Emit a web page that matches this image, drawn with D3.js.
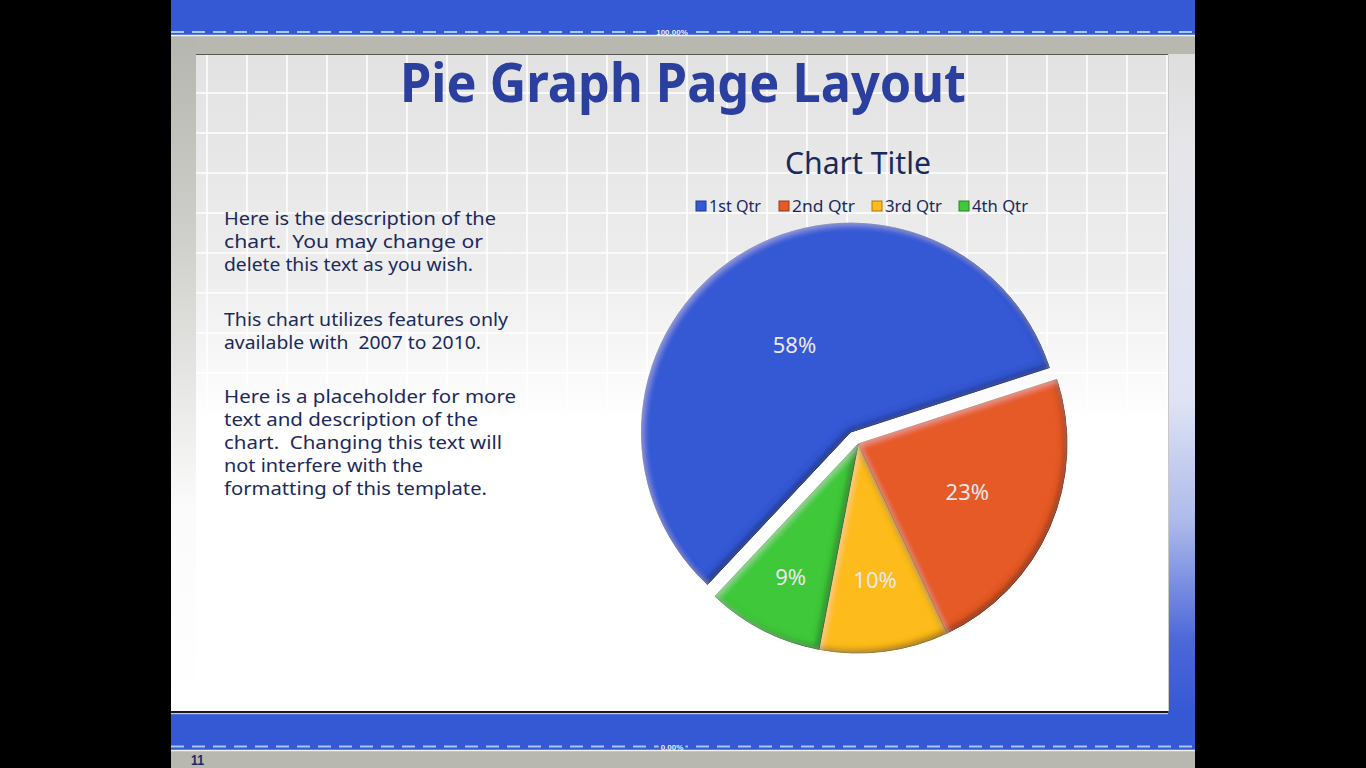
<!DOCTYPE html>
<html>
<head>
<meta charset="utf-8">
<script src="https://cdn.jsdelivr.net/npm/d3@7"></script>
<style>
  html, body { margin: 0; padding: 0; background: #000; }
  svg { display: block; }
</style>
</head>
<body>
<svg id="chart" width="1366" height="768"></svg>
<script>
// ---------- data ----------
const categories = ["1st Qtr", "2nd Qtr", "3rd Qtr", "4th Qtr"];
const values = [58, 23, 10, 9];
const sliceColors = ["#3558d4", "#e55a26", "#fdbb1a", "#41c83a"];
const pageTitle = "Pie Graph Page Layout";
const chartTitle = "Chart Title";
const paragraphs = [
  ["Here is the description of the", "chart.  You may change or", "delete this text as you wish."],
  ["This chart utilizes features only", "available with  2007 to 2010."],
  ["Here is a placeholder for more", "text and description of the", "chart.  Changing this text will", "not interfere with the", "formatting of this template."]
];
const topMarker = "100.00%";
const bottomMarker = "0.00%";
const pageNumber = "11";

// ---------- styling constants ----------
const blue = "#3558d4";
const navy = "#1b2a5c";
const titleBlue = "#2a3f9e";
const band = "#b8b8b1";
const slideX = 171, slideW = 1024;
const contentX = 196, contentR = 1168, contentTop = 54, contentBottom = 711;
const paraLineWidths = [
  [272, 259, 249],
  [284, 257],
  [292, 254, 278, 199, 263]
];
const paraBaselines = [[225, 248, 271], [326, 349], [403, 426, 449, 472, 495]];

const svg = d3.select("#chart");
const defs = svg.append("defs");

// gradients
const gMain = defs.append("linearGradient").attr("id", "gMain").attr("x1", 0).attr("y1", 0).attr("x2", 0).attr("y2", 1);
gMain.append("stop").attr("offset", "0").attr("stop-color", "#e2e2e2");
gMain.append("stop").attr("offset", "0.33").attr("stop-color", "#ededed");
gMain.append("stop").attr("offset", "0.56").attr("stop-color", "#ffffff");
gMain.append("stop").attr("offset", "1").attr("stop-color", "#ffffff");

const gLeft = defs.append("linearGradient").attr("id", "gLeft").attr("x1", 0).attr("y1", 0).attr("x2", 0).attr("y2", 1);
gLeft.append("stop").attr("offset", "0").attr("stop-color", "#b6b6b0");
gLeft.append("stop").attr("offset", "0.3").attr("stop-color", "#cfcfcb");
gLeft.append("stop").attr("offset", "0.7").attr("stop-color", "#fbfbfb");
gLeft.append("stop").attr("offset", "1").attr("stop-color", "#ffffff");

const gRight = defs.append("linearGradient").attr("id", "gRight").attr("gradientUnits", "userSpaceOnUse")
  .attr("x1", 0).attr("y1", 54).attr("x2", 0).attr("y2", 714);
[[54, "#dedede"], [150, "#e6e6ea"], [400, "#dfe3f5"], [520, "#aebbea"], [640, "#4c68d9"], [714, blue]]
  .forEach(([y, c]) => gRight.append("stop").attr("offset", (y - 54) / 660).attr("stop-color", c));

// bevel filter
const f = defs.append("filter").attr("id", "bevel").attr("x", "-10%").attr("y", "-10%").attr("width", "120%").attr("height", "120%");
f.append("feGaussianBlur").attr("in", "SourceAlpha").attr("stdDeviation", 3).attr("result", "blur");
f.append("feOffset").attr("in", "blur").attr("dx", -3).attr("dy", -3).attr("result", "offDark");
f.append("feComposite").attr("in", "SourceAlpha").attr("in2", "offDark").attr("operator", "arithmetic")
  .attr("k2", 1).attr("k3", -1).attr("result", "edgeDark");
f.append("feFlood").attr("flood-color", "#000").attr("flood-opacity", 0.7);
f.append("feComposite").attr("in2", "edgeDark").attr("operator", "in").attr("result", "shadeDark");
f.append("feOffset").attr("in", "blur").attr("dx", 2).attr("dy", 2).attr("result", "offLight");
f.append("feComposite").attr("in", "SourceAlpha").attr("in2", "offLight").attr("operator", "arithmetic")
  .attr("k2", 1).attr("k3", -1).attr("result", "edgeLight");
f.append("feFlood").attr("flood-color", "#fff").attr("flood-opacity", 0.3);
f.append("feComposite").attr("in2", "edgeLight").attr("operator", "in").attr("result", "shadeLight");
const fm = f.append("feMerge");
fm.append("feMergeNode").attr("in", "SourceGraphic");
fm.append("feMergeNode").attr("in", "shadeDark");
fm.append("feMergeNode").attr("in", "shadeLight");

// ---------- slide background ----------
svg.append("rect").attr("width", 1366).attr("height", 768).attr("fill", "#000");
svg.append("rect").attr("x", slideX).attr("y", 0).attr("width", slideW).attr("height", 768).attr("fill", band);
// top blue bar
svg.append("rect").attr("x", slideX).attr("y", 0).attr("width", slideW).attr("height", 35).attr("fill", blue);
svg.append("line").attr("x1", slideX).attr("x2", slideX + slideW).attr("y1", 35.5).attr("y2", 35.5).attr("stroke", "#f2f2f2").attr("stroke-width", 1.5);
// left strip
svg.append("rect").attr("x", slideX).attr("y", 37).attr("width", contentX - slideX).attr("height", contentBottom - 37).attr("fill", "url(#gLeft)");
// right strip
svg.append("rect").attr("x", contentR).attr("y", contentTop).attr("width", slideX + slideW - contentR).attr("height", 714 - contentTop).attr("fill", "url(#gRight)");
// main content
svg.append("rect").attr("x", contentX).attr("y", contentTop).attr("width", contentR - contentX).attr("height", contentBottom - contentTop).attr("fill", "url(#gMain)");
// grid lines
const grid = svg.append("g").attr("stroke", "#ffffff").attr("stroke-width", 1.5);
d3.range(207, contentR, 40).forEach(x => grid.append("line").attr("x1", x).attr("x2", x).attr("y1", contentTop).attr("y2", contentBottom));
d3.range(93, contentBottom, 40).forEach(y => grid.append("line").attr("x1", contentX).attr("x2", contentR).attr("y1", y).attr("y2", y));
// top ruler
svg.append("line").attr("x1", contentX).attr("x2", contentR).attr("y1", 54.5).attr("y2", 54.5).attr("stroke", "#555").attr("stroke-width", 1.2);
svg.append("line").attr("x1", contentR + 0.5).attr("x2", contentR + 0.5).attr("y1", contentTop).attr("y2", contentBottom).attr("stroke", "#c9c9c9").attr("stroke-width", 1);
// bottom line + blue bar
svg.append("rect").attr("x", slideX).attr("y", 714).attr("width", slideW).attr("height", 36).attr("fill", blue);
svg.append("line").attr("x1", slideX).attr("x2", contentR).attr("y1", 712).attr("y2", 712).attr("stroke", "#1a1a1a").attr("stroke-width", 2);
svg.append("line").attr("x1", slideX).attr("x2", contentR).attr("y1", 713.7).attr("y2", 713.7).attr("stroke", "#c8d2f0").attr("stroke-width", 1);
svg.append("line").attr("x1", slideX).attr("x2", slideX + slideW).attr("y1", 750.5).attr("y2", 750.5).attr("stroke", "#f2f2f2").attr("stroke-width", 1.5);

// dashed marker lines
function marker(y, label) {
  svg.append("line").attr("x1", slideX).attr("x2", slideX + slideW).attr("y1", y).attr("y2", y)
    .attr("stroke", "#a6c8f2").attr("stroke-width", 2).attr("stroke-dasharray", "13 8");
  const t = svg.append("text").attr("x", 672).attr("y", y + 3).attr("text-anchor", "middle")
    .attr("font-family", "Liberation Sans, Arial, sans-serif").attr("font-size", 8).attr("font-weight", "bold")
    .attr("fill", "#e8eefc").text(label);
  const bb = t.node().getBBox();
  svg.insert("rect", () => t.node()).attr("x", bb.x - 2).attr("y", y - 2).attr("width", bb.width + 4).attr("height", 4).attr("fill", blue);
}
marker(32, topMarker);
marker(746.5, bottomMarker);

svg.append("text").attr("x", 191).attr("y", 765).attr("font-family", "Liberation Sans Narrow, Liberation Sans, sans-serif")
  .attr("font-size", 15).attr("font-weight", "bold").attr("fill", navy)
  .attr("textLength", 13).attr("lengthAdjust", "spacingAndGlyphs").text(pageNumber);

// ---------- titles and text ----------
const font = "'Noto Sans', 'DejaVu Sans', sans-serif";
svg.append("text").attr("x", 400).attr("y", 102).attr("font-family", font).attr("font-weight", "bold")
  .attr("font-size", 54).attr("fill", titleBlue).attr("textLength", 566).attr("lengthAdjust", "spacingAndGlyphs").text(pageTitle);

const para = svg.append("g").attr("font-family", font).attr("font-size", 18.5).attr("fill", navy);
paragraphs.forEach((lines, i) => lines.forEach((line, j) => {
  para.append("text").attr("x", 224).attr("y", paraBaselines[i][j]).attr("xml:space", "preserve")
    .attr("textLength", paraLineWidths[i][j]).attr("lengthAdjust", "spacingAndGlyphs").text(line);
}));

svg.append("text").attr("x", 785).attr("y", 174).attr("font-family", font).attr("font-size", 30)
  .attr("fill", navy).attr("textLength", 146).attr("lengthAdjust", "spacingAndGlyphs").text(chartTitle);

// legend
const legendX = [696, 779, 872, 959];
const legendTextW = [52, 63, 57, 56];
const legend = svg.append("g");
categories.forEach((c, i) => {
  legend.append("rect").attr("x", legendX[i]).attr("y", 201).attr("width", 10).attr("height", 10)
    .attr("fill", sliceColors[i]).attr("stroke", d3.color(sliceColors[i]).darker(1.2)).attr("stroke-width", 1);
  legend.append("text").attr("x", legendX[i] + 13).attr("y", 212).attr("font-family", font).attr("font-size", 16)
    .attr("fill", navy).attr("textLength", legendTextW[i]).attr("lengthAdjust", "spacingAndGlyphs").text(c);
});

// ---------- pie ----------
const cx = 858, cy = 444, R = 209;
const explode = [14, 0, 0, 0];
const labelFactor = [0.5, 0.57, 0.65, 0.71];
const startDeg = 223.2;
const pie = d3.pie().sort(null).value(d => d)
  .startAngle(startDeg * Math.PI / 180).endAngle(startDeg * Math.PI / 180 + 2 * Math.PI);
const arcs = pie(values);
const arc = d3.arc().innerRadius(0).outerRadius(R);
const total = d3.sum(values);

const pg = svg.append("g").attr("transform", `translate(${cx},${cy})`);
arcs.forEach((a, i) => {
  const mid = (a.startAngle + a.endAngle) / 2;
  const dx = explode[i] * Math.sin(mid), dy = -explode[i] * Math.cos(mid);
  const g = pg.append("g").attr("transform", `translate(${dx},${dy})`);
  g.append("path").attr("d", arc(a)).attr("fill", sliceColors[i]).attr("filter", "url(#bevel)")
    .attr("stroke", d3.color(sliceColors[i]).darker(0.8)).attr("stroke-width", 0.8);
  const lr = R * labelFactor[i];
  const pos = d3.arc().innerRadius(lr).outerRadius(lr).centroid(a);
  g.append("text").attr("x", pos[0]).attr("y", pos[1]).attr("text-anchor", "middle").attr("dominant-baseline", "central")
    .attr("font-family", font).attr("font-size", 22).attr("fill", "#e9e9e9")
    .text(Math.round(values[i] / total * 100) + "%");
});
</script>
</body>
</html>
